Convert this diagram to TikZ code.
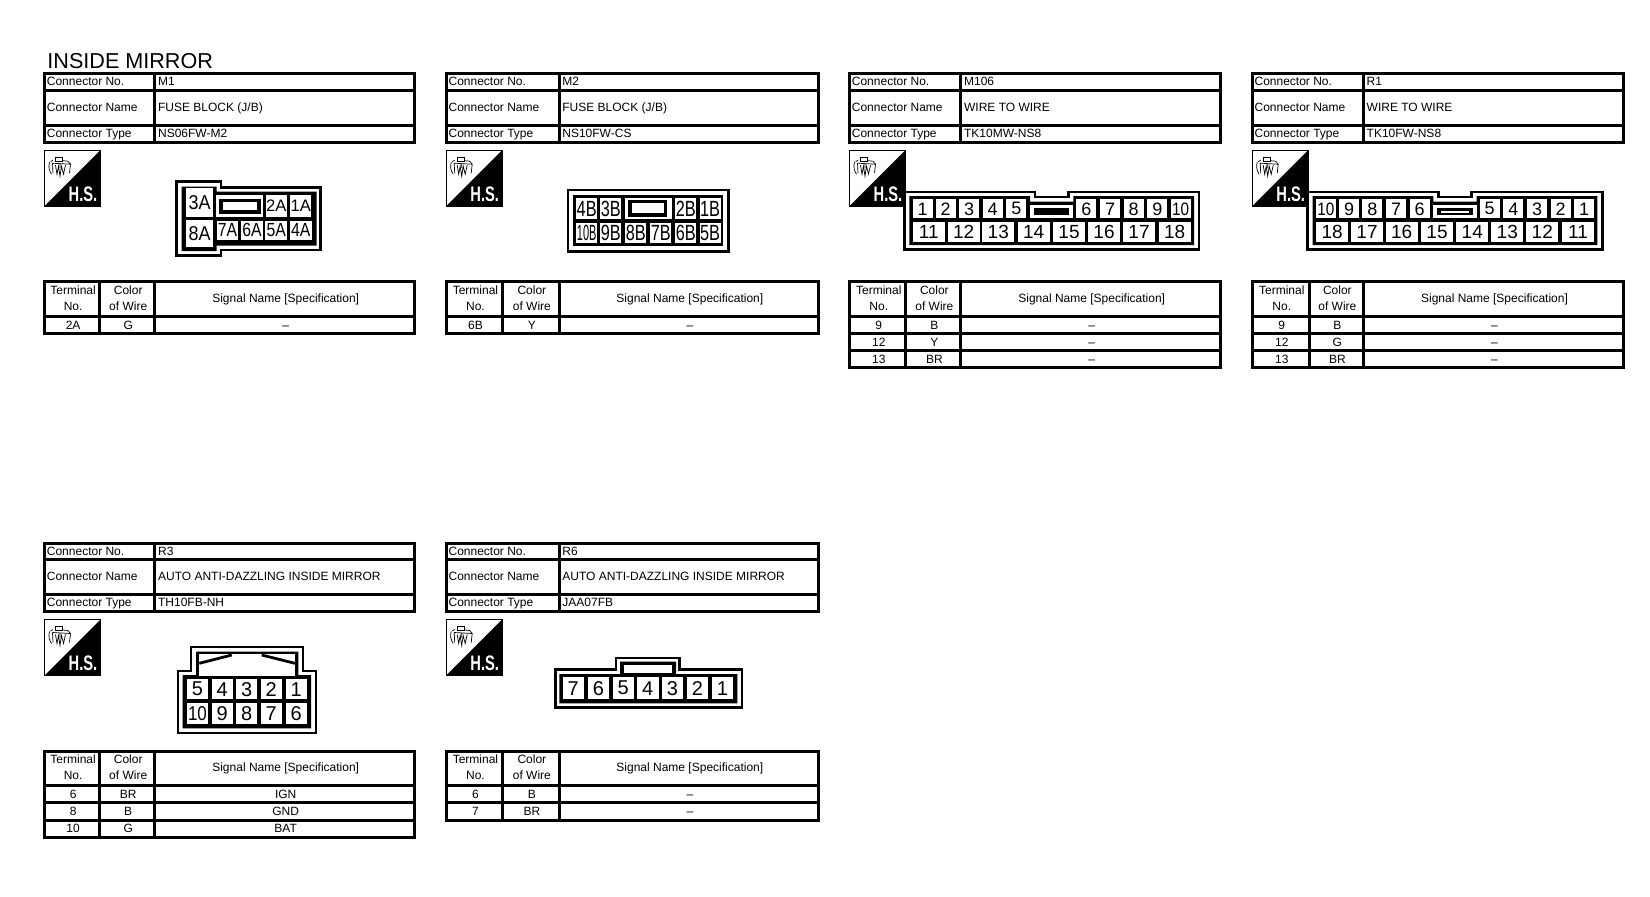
\documentclass[tikz,border=0pt]{standalone}
\usepackage{fontspec}
\setmainfont{Liberation Sans}
\usetikzlibrary{calc}

\tikzset{
  rulefat/.style={line width=1.5pt, draw=black},
  shellline/.style={draw=black, line width=1.2pt, fill=white},
  corefill/.style={fill=black},
  slotfill/.style={fill=white},
  cell/.style 2 args={fill=white, inner sep=0pt, minimum width=#1*0.5pt, minimum height=#2*0.5pt},
  bigcell/.style={font=\fontsize{10}{11}\selectfont},
  midcell/.style={font=\fontsize{9.5}{10}\selectfont},
  lowcell/.style={font=\fontsize{8.3}{9}\selectfont},
  tallcell/.style={font=\fontsize{11}{12}\selectfont},
  numcell/.style={font=\fontsize{9}{10}\selectfont},
  widecell/.style={font=\fontsize{9.5}{10}\selectfont},
  roundcell/.style={font=\fontsize{10}{11}\selectfont},
  headtext/.style={font=\fontsize{6}{7}\selectfont, inner sep=0pt, text height=4.3pt, text depth=0pt, anchor=west},
  bodytext/.style={font=\fontsize{6}{7}\selectfont, inner sep=0pt, text height=4.3pt, text depth=0pt},
  titletext/.style={font=\fontsize{10.8}{12}\selectfont, inner sep=0pt, anchor=base west},
  hsmark/.pic={
    \draw[line width=0.6pt, fill=white] (0,0) rectangle (56,56);
    \fill[black] (56,0) -- (56,56) -- (0,56) -- cycle;
    \draw[line width=0.35pt] (10.7,7.3) rectangle (18.3,10.7);
    \draw[line width=0.35pt] (6,11.5) -- (8.5,10) (18.3,10.5) -- (23.5,11) -- (26,14) -- (25,23);
    \draw[line width=0.35pt] (5,12) .. controls (3.5,17) and (5,21) .. (7,24);
    \draw[line width=0.35pt] (8,13) -- (8.5,23) (8,13) -- (26,14) (15.5,14) -- (15.5,18);
    \draw[line width=0.35pt] (11,15) -- (12.5,24) -- (14,16) -- (15.5,26) -- (17,16) -- (19,24) -- (21,15);
    \node[text=white, inner sep=0pt] (label) at (38.5,44.2)
      {\scalebox{.7}[1]{\fontsize{10.5}{12}\selectfont\bfseries H.S.}};
  }
}

% name, left, colsep, sep, right, top, connector name, connector type, rows
\newcommand{\connpanel}[9]{
  % upper block
  \draw[rulefat] (#2,#6) rectangle (#5,#6+68.3);
  \draw[rulefat] (#2,#6+16.3) -- (#5,#6+16.3);
  \draw[rulefat] (#2,#6+51.3) -- (#5,#6+51.3);
  \draw[rulefat] (#4,#6) -- (#4,#6+68.3);
  \node[headtext] (#1-nol) at (#2+2,#6+7.7) {Connector No.};
  \node[headtext] (#1-namel) at (#2+2,#6+33.3) {Connector Name};
  \node[headtext] (#1-typel) at (#2+2,#6+59.5) {Connector Type};
  \node[headtext] (#1-no) at (#4+3,#6+7.7) {#1};
  \node[headtext] (#1-name) at (#4+3,#6+33.3) {#7};
  \node[headtext] (#1-type) at (#4+3,#6+59.5) {#8};
  \pic (#1-mark) at (#2,#6+76.5) {hsmark};
  % lower block
  \draw[rulefat] (#2,#6+208) rectangle (#5,#6+242.6);
  \draw[rulefat] (#3,#6+208) -- (#3,#6+242.6);
  \draw[rulefat] (#4,#6+208) -- (#4,#6+242.6);
  \node[bodytext] (#1-terma) at ($(#2,#6)!.5!(#3,#6)+(1.2,216.5)$) {Terminal};
  \node[bodytext] (#1-termb) at ($(#2,#6)!.5!(#3,#6)+(1.2,232.3)$) {No.};
  \node[bodytext] (#1-cola) at ($(#3,#6)!.5!(#4,#6)+(1.2,216.5)$) {Color};
  \node[bodytext] (#1-colb) at ($(#3,#6)!.5!(#4,#6)+(1.2,232.3)$) {of Wire};
  \node[bodytext] (#1-sig) at ($(#4,#6)!.5!(#5,#6)+(1.2,224.6)$) {Signal Name [Specification]};
  \foreach \tno/\wire/\signal [count=\r] in {#9} {
    \draw[rulefat] (#2,#6+242.6+17.2*\r-17.2) rectangle (#5,#6+242.6+17.2*\r);
    \draw[rulefat] (#3,#6+242.6+17.2*\r-17.2) -- (#3,#6+242.6+17.2*\r);
    \draw[rulefat] (#4,#6+242.6+17.2*\r-17.2) -- (#4,#6+242.6+17.2*\r);
    \node[bodytext] (#1-t\r) at ($(#2,#6)!.5!(#3,#6)+(1.2,242.6+17.2*\r-8.8)$) {\tno};
    \node[bodytext] (#1-w\r) at ($(#3,#6)!.5!(#4,#6)+(1.2,242.6+17.2*\r-8.8)$) {\wire};
    \node[bodytext] (#1-s\r) at ($(#4,#6)!.5!(#5,#6)+(1.2,242.6+17.2*\r-8.8)$) {\signal};
  }
}

\begin{document}
\begin{tikzpicture}[x=0.5pt, y=-0.5pt]

\path[use as bounding box, fill=white] (0,0) rectangle (1650,896);

\node[titletext] (title) at (47,68.5) {INSIDE MIRROR};

% Panels, top row
\connpanel{M1}{44.5}{99.3}{154.7}{414.3}{73.7}{FUSE BLOCK (J/B)}{NS06FW-M2}{2A/G/–}
\connpanel{M2}{446.2}{502.3}{559}{818.3}{73.7}{FUSE BLOCK (J/B)}{NS10FW-CS}{6B/Y/–}
\connpanel{M106}{849.5}{905.7}{960.7}{1220.3}{73.7}{WIRE TO WIRE}{TK10MW-NS8}{9/B/–,12/Y/–,13/BR/–}
\connpanel{R1}{1252.2}{1309}{1363.3}{1623.3}{73.7}{WIRE TO WIRE}{TK10FW-NS8}{9/B/–,12/G/–,13/BR/–}

% Panels, bottom row
\connpanel{R3}{44.5}{99.3}{154.7}{414.3}{543}{AUTO ANTI-DAZZLING INSIDE MIRROR}{TH10FB-NH}{6/BR/IGN,8/B/GND,10/G/BAT}
\connpanel{R6}{446.2}{502.3}{559}{818.3}{543}{AUTO ANTI-DAZZLING INSIDE MIRROR}{JAA07FB}{6/B/–,7/BR/–}

% Connector M1
\draw[shellline] (176.3,181.3) -- (220.7,181.3) -- (220.7,187.3) -- (320.3,187.3) -- (320.3,249.7)
  -- (220.7,249.7) -- (220.7,255.3) -- (176.3,255.3) -- cycle;
\fill[corefill] (181.7,186.7) -- (216.7,186.7) -- (216.7,191.7) -- (316.7,191.7) -- (316.7,245.6)
  -- (216.7,245.6) -- (216.7,251) -- (181.7,251) -- cycle;
\node[cell={27.3}{28.3}, bigcell] (m1-3A) at (199.7,202.5) {\scalebox{.9}[1]{3A}};
\node[cell={27.3}{27.3}, bigcell] (m1-8A) at (199.7,233.7) {\scalebox{.9}[1]{8A}};
\fill[slotfill] (215.7,195) rectangle (263.3,216.7);
\fill[corefill] (219,199) rectangle (260.7,214);
\fill[slotfill] (223.3,202.3) rectangle (256.7,210);
\foreach \t/\cx in {2A/276.3,1A/300.8} {
  \node[cell={20.7}{21.7}, lowcell] (m1-\t) at (\cx,205.8) {\t};
}
\foreach \t/\cx in {7A/227.5,6A/252,5A/276.3,4A/300.8} {
  \node[cell={21.7}{19.3}, midcell] (m1-\t) at (\cx,230.3) {\scalebox{.83}[1]{\t}};
}

% Connector M2
\draw[shellline] (567.7,189.7) rectangle (728.3,251.3);
\fill[corefill] (573.3,195) rectangle (723.3,246);
\fill[slotfill] (625,198.3) rectangle (671.7,219.3);
\fill[corefill] (628.3,200) rectangle (667.3,216.7);
\fill[slotfill] (632.3,203.3) rectangle (664,213.3);
\foreach \t/\cx in {4B/586.7,3B/610.8,2B/685.8,1B/710} {
  \node[cell={21}{21}, tallcell] (m2-\t) at (\cx,208.8) {\scalebox{.74}[1]{\t}};
}
\foreach \t/\cx in {9B/610.8,8B/635.8,7B/660.8,6B/685.8,5B/710} {
  \node[cell={21}{20}, tallcell] (m2-\t) at (\cx,232.7) {\scalebox{.74}[1]{\t}};
}
\node[cell={21}{20}, tallcell] (m2-10B) at (586.7,232.7) {\scalebox{.5}[1]{10B}};

% Connector M106
\draw[shellline] (904.3,191.7) -- (1035,191.7) -- (1035,196.7) -- (1068.3,196.7) -- (1068.3,191.7)
  -- (1199,191.7) -- (1199,249.3) -- (904.3,249.3) -- cycle;
\fill[corefill] (909.3,196) -- (1030,196) -- (1030,201.7) -- (1073.3,201.7) -- (1073.3,196)
  -- (1194,196) -- (1194,245) -- (909.3,245) -- cycle;
\fill[slotfill] (1030,205) rectangle (1073.3,218.3);
\fill[corefill] (1034,208.3) rectangle (1069.3,215);
\foreach \t/\cx in {1/922.5,2/945.7,3/969,4/992.7,5/1016.3,6/1086.3,7/1110,8/1133.7,9/1157.3} {
  \node[cell={20}{19}, numcell] (m106-\t) at (\cx,208.8) {\t};
}
\node[cell={20}{19}, numcell] (m106-10) at (1180.7,208.8) {\scalebox{.85}[1]{10}};
\foreach \t/\cx in {11/928.8,12/963.7,13/998.3,14/1033.7,15/1069,16/1104,17/1139,18/1174.7} {
  \node[cell={32}{20}, widecell] (m106-\t) at (\cx,231.7) {\t};
}

% Connector R1
\begin{scope}[shift={(403.3,0)}]
\draw[shellline] (904.3,191.7) -- (1035,191.7) -- (1035,196.7) -- (1068.3,196.7) -- (1068.3,191.7)
  -- (1199,191.7) -- (1199,249.3) -- (904.3,249.3) -- cycle;
\fill[corefill] (909.3,196) -- (1030,196) -- (1030,201.7) -- (1073.3,201.7) -- (1073.3,196)
  -- (1194,196) -- (1194,245) -- (909.3,245) -- cycle;
\fill[slotfill] (1030,205) rectangle (1073.3,218.3);
\fill[corefill] (1034,208.3) rectangle (1069.3,215);
\fill[slotfill] (1037.5,210.5) rectangle (1066,213);
\node[cell={20}{19}, numcell] (r1-10) at (922.5,208.8) {\scalebox{.85}[1]{10}};
\foreach \t/\cx in {9/945.7,8/969,7/992.7,6/1016.3,5/1086.3,4/1110,3/1133.7,2/1157.3,1/1180.7} {
  \node[cell={20}{19}, numcell] (r1-\t) at (\cx,208.8) {\t};
}
\foreach \t/\cx in {18/928.8,17/963.7,16/998.3,15/1033.7,14/1069,13/1104,12/1139,11/1174.7} {
  \node[cell={32}{20}, widecell] (r1-\t) at (\cx,231.7) {\t};
}
\end{scope}

% Connector R3
\draw[shellline] (191,646.7) -- (303,646.7) -- (303,671) -- (315.7,671) -- (315.7,733)
  -- (178,733) -- (178,671) -- (191,671) -- cycle;
\fill[corefill] (196,651.7) -- (298.3,651.7) -- (298.3,675) -- (311,675) -- (311,728.3)
  -- (182.7,728.3) -- (182.7,675) -- (196,675) -- cycle;
\fill[slotfill] (199.3,654.3) rectangle (295,676);
\draw[line width=1.4pt] (199.3,663.3) -- (231.7,655) (261.7,655) -- (295,663.3);
\foreach \t/\cx in {5/197.5,4/222.2,3/246.7,2/271.2,1/296.2} {
  \node[cell={21}{20.3}, roundcell] (r3-\t) at (\cx,689.2) {\t};
}
\node[cell={21}{21}, roundcell] (r3-10) at (197.5,713.8) {\scalebox{.85}[1]{10}};
\foreach \t/\cx in {9/222.2,8/246.7,7/271.2,6/296.2} {
  \node[cell={21}{21}, roundcell] (r3-\t) at (\cx,713.8) {\t};
}

% Connector R6
\draw[shellline] (616,657.7) -- (679.3,657.7) -- (679.3,669.3) -- (741.7,669.3) -- (741.7,707.3)
  -- (555.3,707.3) -- (555.3,669.3) -- (616,669.3) -- cycle;
\fill[corefill] (620,661.7) -- (676,661.7) -- (676,674) -- (737.3,674) -- (737.3,703.3)
  -- (559.3,703.3) -- (559.3,674) -- (620,674) -- cycle;
\fill[slotfill] (624.3,665) rectangle (671.7,673.3);
\foreach \t/\cx in {7/573.3,6/598.5,5/623.3,4/647.8,3/672.5,2/697.5,1/722.5} {
  \node[cell={21.5}{21.7}, roundcell] (r6-\t) at (\cx,688.2) {\t};
}

\end{tikzpicture}
\end{document}
